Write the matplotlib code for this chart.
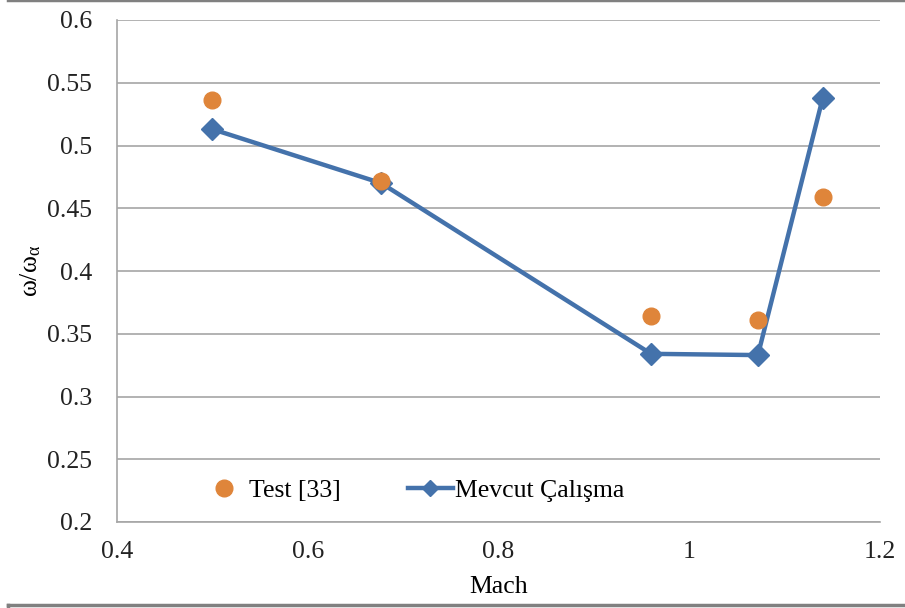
import matplotlib
matplotlib.use("Agg")
from matplotlib import pyplot as plt
from matplotlib.lines import Line2D

plt.rcParams['font.family'] = ['Liberation Serif', 'DejaVu Serif']
plt.rcParams['mathtext.fontset'] = 'custom'
plt.rcParams['mathtext.rm'] = 'Liberation Serif'
plt.rcParams['mathtext.default'] = 'regular'

mach_test = [0.50, 0.677, 0.96, 1.072, 1.14]
freq_test = [0.536, 0.472, 0.364, 0.361, 0.459]

mach_calc = [0.50, 0.677, 0.96, 1.072, 1.14]
freq_calc = [0.513, 0.470, 0.334, 0.333, 0.538]

orange = '#DF853A'
blue = '#4472AB'
grid_gray = '#A6A6A6'
fs = 18.5

fig = plt.figure(figsize=(9.05, 6.08), dpi=100)
ax = fig.add_axes([117 / 905, 1 - 522 / 608, 763 / 905, 502 / 608])

ax.plot(mach_calc, freq_calc, color=blue, lw=3.2, marker='D', markersize=11,
        label='Mevcut Çalışma', zorder=3)
ax.plot(mach_test, freq_test, ls='none', marker='o', markersize=12,
        color=orange, markeredgecolor=orange, label='Test [33]', zorder=4)

ax.set_xlim(0.4, 1.2)
ax.set_ylim(0.2, 0.6)
ax.set_xticks([0.4, 0.6, 0.8, 1.0, 1.2])
ax.set_xticklabels(['0.4', '0.6', '0.8', '1', '1.2'])
ax.set_yticks([0.2, 0.25, 0.3, 0.35, 0.4, 0.45, 0.5, 0.55, 0.6])
ax.set_yticklabels(['0.2', '0.25', '0.3', '0.35', '0.4', '0.45', '0.5', '0.55', '0.6'])
ax.tick_params(length=0, labelsize=fs, colors='#222222')
ax.tick_params(axis='y', pad=18)
ax.tick_params(axis='x', pad=14)

ax.yaxis.grid(True, color=grid_gray, lw=1.2)
ax.set_axisbelow(True)
for side in ['top', 'right']:
    ax.spines[side].set_visible(False)
for side in ['left', 'bottom']:
    ax.spines[side].set_color(grid_gray)
    ax.spines[side].set_linewidth(1.2)

ax.set_xlabel('Mach', fontsize=fs, labelpad=9)
ax.set_ylabel(r'$\omega/\omega_\alpha$', fontsize=fs, labelpad=3)

handles = [
    Line2D([], [], ls='none', marker='o', markersize=12, color=orange),
    Line2D([], [], color=blue, lw=3.2, marker='D', markersize=8),
]
ax.legend(handles, ['Test [33]', 'Mevcut Çalışma'], ncol=2, frameon=False,
          loc='center', bbox_to_anchor=(0.388, 0.062), fontsize=fs,
          columnspacing=2.6, handlelength=1.75, handletextpad=0.1)

# outer chart frame
fig.add_artist(Line2D([8 / 905, 8 / 905], [0, 1 - 605 / 608], color='#808080', lw=2.5))
fig.add_artist(Line2D([8 / 905, 1], [1 - 605 / 608, 1 - 605 / 608], color='#808080', lw=2.5))
fig.add_artist(Line2D([8 / 905, 1], [1, 1], color='#808080', lw=2.5))

fig.savefig('out.png', dpi=100)
